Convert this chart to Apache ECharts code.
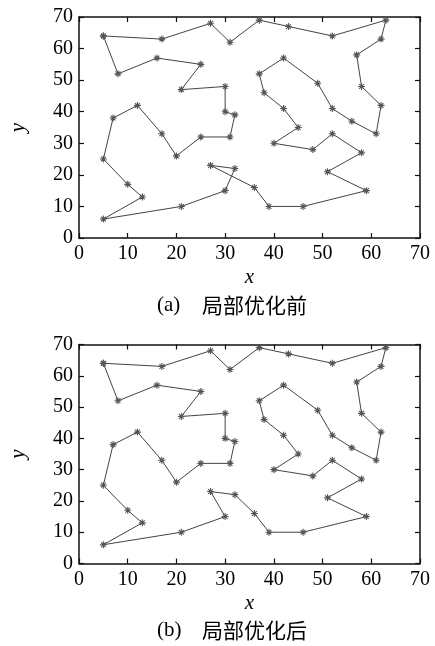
<!DOCTYPE html>
<html>
<head>
<meta charset="utf-8">
<script src="https://cdn.jsdelivr.net/npm/echarts@6/dist/echarts.min.js"></script>
<style>html,body{margin:0;padding:0;background:#fff;}#c{width:435px;height:646px;}</style>
</head>
<body>
<div id="c"></div>
<script>
// City coordinates (eil51 instance)
const cityX = [37,49,52,20,40,21,17,31,52,51,42,31,5,12,36,52,27,17,13,57,62,42,16,8,7,27,30,43,58,58,37,38,46,61,62,63,32,45,59,5,10,21,5,30,39,32,25,25,48,56,30];
const cityY = [52,49,64,26,30,47,63,62,33,21,41,32,25,42,16,41,23,33,13,58,42,57,57,52,38,68,48,67,48,27,69,46,10,33,63,69,22,35,15,6,17,10,64,15,10,39,32,55,28,37,40];
// Tour before local optimisation (1-based city indices)
const tourA = [43,7,26,8,31,28,3,36,35,20,29,21,34,50,16,2,22,1,32,11,38,5,49,9,30,10,39,33,45,15,17,37,44,42,40,19,41,13,25,14,18,4,47,12,46,51,27,6,48,23,24];
// Tour after local optimisation
const tourB = [43,7,26,8,31,28,3,36,35,20,29,21,34,50,16,2,22,1,32,11,38,5,49,9,30,10,39,33,45,15,37,17,44,42,40,19,41,13,25,14,18,4,47,12,46,51,27,6,48,23,24];
const axisMin = 0, axisMax = 70, axisStep = 10;
const captionA = ['(a)', '局部优化前'];
const captionB = ['(b)', '局部优化后'];

function tourData(t){
  const d = t.map(i => [cityX[i-1], cityY[i-1]]);
  d.push(d[0]);
  return d;
}

const serif = 'Liberation Serif';
const lineCol = '#111';

function mkX(gi, pos){
  const bottom = pos === 'bottom';
  return {
    gridIndex: gi, type: 'value', position: pos, min: axisMin, max: axisMax, interval: axisStep,
    name: bottom ? 'x' : '', nameLocation: 'middle', nameGap: 29,
    nameTextStyle: {fontFamily: serif, fontStyle: 'italic', fontSize: 21, color: '#000'},
    axisLine: {show: true, onZero: false, lineStyle: {color: lineCol, width: 1.5}},
    axisTick: {show: true, inside: true, length: 5, lineStyle: {color: lineCol, width: 1.2}},
    axisLabel: {show: bottom, margin: 6, fontFamily: serif, fontSize: 20, color: '#000'},
    splitLine: {show: false}
  };
}
function mkY(gi, pos){
  const left = pos === 'left';
  return {
    gridIndex: gi, type: 'value', position: pos, min: axisMin, max: axisMax, interval: axisStep,
    name: left ? 'y' : '', nameLocation: 'middle', nameGap: 50, nameRotate: 90,
    nameTextStyle: {fontFamily: serif, fontStyle: 'italic', fontSize: 21, color: '#000'},
    axisLine: {show: true, onZero: false, lineStyle: {color: lineCol, width: 1.5}},
    axisTick: {show: true, inside: true, length: 5, lineStyle: {color: lineCol, width: 1.2}},
    axisLabel: {show: left, margin: 6, fontFamily: serif, fontSize: 20, color: '#000'},
    splitLine: {show: false}
  };
}

const star = 'path://M5,0L5,10M0,5L10,5M1.6,1.6L8.4,8.4M8.4,1.6L1.6,8.4';
function mkSeries(xi, yi, t){
  return {
    type: 'line', xAxisIndex: xi, yAxisIndex: yi, data: tourData(t),
    lineStyle: {color: '#444', width: 1},
    symbol: star, symbolSize: 7,
    itemStyle: {color: 'none', borderColor: '#555', borderWidth: 1.1},
    silent: true, animation: false
  };
}

function caption(parts, y){
  return [
    {type: 'text', left: 157, top: y, style: {text: parts[0], fontFamily: serif, fontSize: 21, fill: '#000'}},
    {type: 'text', left: 202, top: y, style: {text: parts[1], fontFamily: 'Noto Sans CJK SC', fontSize: 21, fill: '#000'}}
  ];
}

const chart = echarts.init(document.getElementById('c'), null, {renderer: 'canvas'});
chart.setOption({
  backgroundColor: '#fff',
  animation: false,
  grid: [
    {left: 73, width: 347, top: 17, height: 221, show: false},
    {left: 73, width: 347, top: 344.5, height: 219, show: false}
  ],
  xAxis: [mkX(0,'bottom'), mkX(0,'top'), mkX(1,'bottom'), mkX(1,'top')],
  yAxis: [mkY(0,'left'), mkY(0,'right'), mkY(1,'left'), mkY(1,'right')],
  series: [mkSeries(0,0,tourA), mkSeries(2,2,tourB)],
  graphic: [...caption(captionA, 295), ...caption(captionB, 620)]
});
</script>
</body>
</html>
